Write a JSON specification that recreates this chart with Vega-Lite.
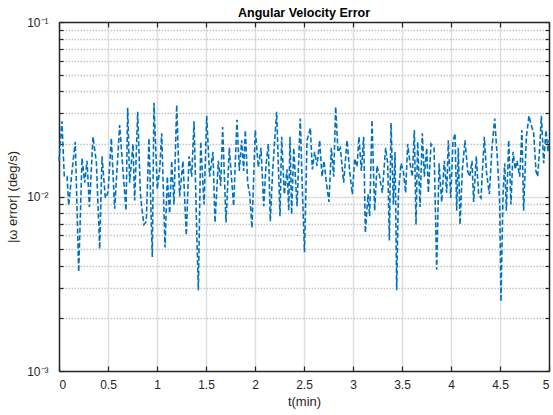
{
  "$schema": "https://vega.github.io/schema/vega-lite/v6.json",
  "width": 490,
  "height": 349,
  "autosize": {"type": "none"},
  "padding": {"left": 59, "top": 22, "right": 4, "bottom": 44},
  "background": "white",
  "config": {
    "view": {"stroke": null},
    "font": "Liberation Sans",
    "axis": {"domainColor": "#262626", "tickColor": "#262626", "labelColor": "#262626", "titleColor": "#262626", "domainWidth": 1.5, "tickWidth": 1.2, "labelFont": "Liberation Sans", "titleFont": "Liberation Sans", "labelFontSize": 12, "titleFontSize": 13, "titleFontWeight": "normal", "zindex": 0}
  },
  "title": {"text": "Angular Velocity Error", "fontSize": 12.5, "fontWeight": "bold", "color": "#000000", "font": "Liberation Sans", "anchor": "middle", "offset": -3},
  "data": {"values": [
    {"t": 0, "e": 0.016}, {"t": 0.03, "e": 0.027}, {"t": 0.054, "e": 0.013}, {"t": 0.082, "e": 0.013}, {"t": 0.099, "e": 0.0089},
    {"t": 0.133, "e": 0.014}, {"t": 0.166, "e": 0.0206}, {"t": 0.201, "e": 0.0037}, {"t": 0.235, "e": 0.0166}, {"t": 0.262, "e": 0.012},
    {"t": 0.286, "e": 0.016}, {"t": 0.31, "e": 0.0087}, {"t": 0.347, "e": 0.022}, {"t": 0.381, "e": 0.0158}, {"t": 0.415, "e": 0.005},
    {"t": 0.439, "e": 0.017}, {"t": 0.473, "e": 0.0098}, {"t": 0.5, "e": 0.0105}, {"t": 0.534, "e": 0.0216}, {"t": 0.568, "e": 0.0085},
    {"t": 0.619, "e": 0.0257}, {"t": 0.653, "e": 0.014}, {"t": 0.684, "e": 0.0083}, {"t": 0.701, "e": 0.0322}, {"t": 0.721, "e": 0.012},
    {"t": 0.755, "e": 0.02}, {"t": 0.772, "e": 0.0095}, {"t": 0.803, "e": 0.0306}, {"t": 0.83, "e": 0.0105}, {"t": 0.844, "e": 0.0087},
    {"t": 0.867, "e": 0.0069}, {"t": 0.891, "e": 0.0072}, {"t": 0.918, "e": 0.0216}, {"t": 0.952, "e": 0.0045}, {"t": 0.969, "e": 0.0344},
    {"t": 1.003, "e": 0.011}, {"t": 1.027, "e": 0.0143}, {"t": 1.048, "e": 0.023}, {"t": 1.082, "e": 0.0051}, {"t": 1.105, "e": 0.013},
    {"t": 1.129, "e": 0.008}, {"t": 1.15, "e": 0.016}, {"t": 1.173, "e": 0.009}, {"t": 1.201, "e": 0.0335}, {"t": 1.231, "e": 0.01},
    {"t": 1.265, "e": 0.016}, {"t": 1.299, "e": 0.006}, {"t": 1.327, "e": 0.017}, {"t": 1.354, "e": 0.013}, {"t": 1.378, "e": 0.027},
    {"t": 1.401, "e": 0.0078}, {"t": 1.422, "e": 0.0029}, {"t": 1.446, "e": 0.0206}, {"t": 1.48, "e": 0.009}, {"t": 1.507, "e": 0.029},
    {"t": 1.537, "e": 0.013}, {"t": 1.571, "e": 0.018}, {"t": 1.592, "e": 0.0071}, {"t": 1.626, "e": 0.016}, {"t": 1.65, "e": 0.0115},
    {"t": 1.67, "e": 0.025}, {"t": 1.704, "e": 0.0071}, {"t": 1.738, "e": 0.019}, {"t": 1.755, "e": 0.014}, {"t": 1.782, "e": 0.0088},
    {"t": 1.816, "e": 0.0275}, {"t": 1.84, "e": 0.014}, {"t": 1.864, "e": 0.021}, {"t": 1.884, "e": 0.014}, {"t": 1.901, "e": 0.024},
    {"t": 1.925, "e": 0.012}, {"t": 1.946, "e": 0.0103}, {"t": 1.969, "e": 0.0066}, {"t": 2.003, "e": 0.024}, {"t": 2.034, "e": 0.0147},
    {"t": 2.061, "e": 0.019}, {"t": 2.089, "e": 0.0088}, {"t": 2.112, "e": 0.015}, {"t": 2.136, "e": 0.02}, {"t": 2.156, "e": 0.0072},
    {"t": 2.18, "e": 0.014}, {"t": 2.221, "e": 0.0306}, {"t": 2.255, "e": 0.0077}, {"t": 2.272, "e": 0.022}, {"t": 2.299, "e": 0.0103},
    {"t": 2.327, "e": 0.0143}, {"t": 2.344, "e": 0.0083}, {"t": 2.357, "e": 0.022}, {"t": 2.374, "e": 0.0079}, {"t": 2.395, "e": 0.019},
    {"t": 2.429, "e": 0.0088}, {"t": 2.462, "e": 0.028}, {"t": 2.483, "e": 0.011}, {"t": 2.505, "e": 0.0048}, {"t": 2.531, "e": 0.021},
    {"t": 2.565, "e": 0.0247}, {"t": 2.585, "e": 0.0143}, {"t": 2.609, "e": 0.018}, {"t": 2.633, "e": 0.015}, {"t": 2.66, "e": 0.021},
    {"t": 2.684, "e": 0.013}, {"t": 2.704, "e": 0.016}, {"t": 2.728, "e": 0.012}, {"t": 2.755, "e": 0.0093}, {"t": 2.779, "e": 0.019},
    {"t": 2.803, "e": 0.013}, {"t": 2.823, "e": 0.0327}, {"t": 2.847, "e": 0.018}, {"t": 2.871, "e": 0.019}, {"t": 2.905, "e": 0.012},
    {"t": 2.939, "e": 0.021}, {"t": 2.966, "e": 0.014}, {"t": 2.993, "e": 0.0103}, {"t": 3.017, "e": 0.0165}, {"t": 3.041, "e": 0.0148},
    {"t": 3.061, "e": 0.022}, {"t": 3.085, "e": 0.014}, {"t": 3.109, "e": 0.022}, {"t": 3.126, "e": 0.0062}, {"t": 3.153, "e": 0.0103},
    {"t": 3.17, "e": 0.0077}, {"t": 3.194, "e": 0.0275}, {"t": 3.221, "e": 0.0083}, {"t": 3.245, "e": 0.015}, {"t": 3.272, "e": 0.013},
    {"t": 3.299, "e": 0.0105}, {"t": 3.333, "e": 0.019}, {"t": 3.354, "e": 0.0155}, {"t": 3.371, "e": 0.0056}, {"t": 3.388, "e": 0.0264},
    {"t": 3.412, "e": 0.009}, {"t": 3.429, "e": 0.018}, {"t": 3.446, "e": 0.0029}, {"t": 3.463, "e": 0.0103}, {"t": 3.49, "e": 0.0155},
    {"t": 3.514, "e": 0.014}, {"t": 3.537, "e": 0.0105}, {"t": 3.558, "e": 0.02}, {"t": 3.582, "e": 0.0155}, {"t": 3.605, "e": 0.013},
    {"t": 3.626, "e": 0.024}, {"t": 3.643, "e": 0.0069}, {"t": 3.66, "e": 0.0206}, {"t": 3.684, "e": 0.0087}, {"t": 3.707, "e": 0.023},
    {"t": 3.728, "e": 0.013}, {"t": 3.752, "e": 0.019}, {"t": 3.769, "e": 0.0105}, {"t": 3.796, "e": 0.02}, {"t": 3.827, "e": 0.019},
    {"t": 3.854, "e": 0.0038}, {"t": 3.878, "e": 0.0155}, {"t": 3.905, "e": 0.0093}, {"t": 3.932, "e": 0.016}, {"t": 3.956, "e": 0.0105},
    {"t": 3.973, "e": 0.021}, {"t": 3.997, "e": 0.0098}, {"t": 4.02, "e": 0.0206}, {"t": 4.041, "e": 0.023}, {"t": 4.058, "e": 0.0083},
    {"t": 4.075, "e": 0.019}, {"t": 4.092, "e": 0.0069}, {"t": 4.116, "e": 0.0143}, {"t": 4.143, "e": 0.021}, {"t": 4.17, "e": 0.014},
    {"t": 4.191, "e": 0.013}, {"t": 4.214, "e": 0.016}, {"t": 4.231, "e": 0.0093}, {"t": 4.258, "e": 0.017}, {"t": 4.282, "e": 0.0103},
    {"t": 4.306, "e": 0.0098}, {"t": 4.34, "e": 0.022}, {"t": 4.361, "e": 0.014}, {"t": 4.391, "e": 0.0103}, {"t": 4.418, "e": 0.019},
    {"t": 4.446, "e": 0.028}, {"t": 4.476, "e": 0.0155}, {"t": 4.497, "e": 0.009}, {"t": 4.51, "e": 0.0025}, {"t": 4.531, "e": 0.0103},
    {"t": 4.548, "e": 0.0155}, {"t": 4.565, "e": 0.0083}, {"t": 4.589, "e": 0.021}, {"t": 4.612, "e": 0.009}, {"t": 4.633, "e": 0.018},
    {"t": 4.656, "e": 0.0143}, {"t": 4.673, "e": 0.016}, {"t": 4.701, "e": 0.013}, {"t": 4.724, "e": 0.024}, {"t": 4.741, "e": 0.0083},
    {"t": 4.769, "e": 0.022}, {"t": 4.796, "e": 0.029}, {"t": 4.816, "e": 0.026}, {"t": 4.844, "e": 0.023}, {"t": 4.867, "e": 0.014},
    {"t": 4.884, "e": 0.013}, {"t": 4.905, "e": 0.019}, {"t": 4.922, "e": 0.029}, {"t": 4.946, "e": 0.0155}, {"t": 4.969, "e": 0.024},
    {"t": 4.99, "e": 0.018}, {"t": 5.0, "e": 0.021}
  ]},
  "resolve": {"scale": {"x": "shared", "y": "shared"}, "axis": {"x": "independent", "y": "independent"}},
  "layer": [
    {
      "mark": {"type": "line", "opacity": 0},
      "encoding": {
        "x": {"field": "t", "type": "quantitative", "scale": {"domain": [0, 5], "nice": false, "zero": false},
          "axis": {"orient": "bottom", "values": [0.5, 1, 1.5, 2, 2.5, 3, 3.5, 4, 4.5], "grid": true, "gridColor": "#dedede", "gridWidth": 1.5, "domain": false, "ticks": false, "labels": false, "title": null}},
        "y": {"field": "e", "type": "quantitative", "scale": {"type": "log", "domain": [0.001, 0.1], "nice": false},
          "axis": {"orient": "left", "values": [0.002, 0.003, 0.004, 0.005, 0.006, 0.007, 0.008, 0.009, 0.02, 0.03, 0.04, 0.05, 0.06, 0.07, 0.08, 0.09], "grid": true, "gridColor": "#c4c4c4", "gridDash": [1.5, 1.5], "gridWidth": 1.3, "domain": false, "ticks": true, "tickSize": -4, "labels": false, "title": null}}
      }
    },
    {
      "mark": {"type": "line", "opacity": 0},
      "encoding": {
        "x": {"field": "t", "type": "quantitative", "scale": {"domain": [0, 5], "nice": false, "zero": false},
          "axis": {"orient": "top", "values": [0, 0.5, 1, 1.5, 2, 2.5, 3, 3.5, 4, 4.5, 5], "grid": false, "domain": true, "ticks": true, "tickSize": -5, "labels": false, "title": null}},
        "y": {"field": "e", "type": "quantitative", "scale": {"type": "log", "domain": [0.001, 0.1], "nice": false},
          "axis": {"orient": "right", "values": [0.01], "grid": true, "gridColor": "#dedede", "gridWidth": 1.5, "domain": false, "ticks": false, "labels": false, "title": null}}
      }
    },
    {
      "mark": {"type": "line", "opacity": 0},
      "encoding": {
        "x": {"field": "t", "type": "quantitative", "scale": {"domain": [0, 5], "nice": false, "zero": false}, "axis": null},
        "y": {"field": "e", "type": "quantitative", "scale": {"type": "log", "domain": [0.001, 0.1], "nice": false},
          "axis": {"orient": "right", "values": [0.001, 0.002, 0.003, 0.004, 0.005, 0.006, 0.007, 0.008, 0.009, 0.01, 0.02, 0.03, 0.04, 0.05, 0.06, 0.07, 0.08, 0.09, 0.1], "grid": false, "domain": true, "ticks": true, "tickSize": -4, "labels": false, "title": null}}
      }
    },
    {
      "mark": {"type": "line", "color": "#0072BD", "strokeWidth": 1.6, "strokeDash": [5, 2.5], "interpolate": "linear"},
      "encoding": {
        "x": {"field": "t", "type": "quantitative", "scale": {"domain": [0, 5], "nice": false, "zero": false},
          "axis": {"orient": "bottom", "values": [0, 0.5, 1, 1.5, 2, 2.5, 3, 3.5, 4, 4.5, 5], "format": "~g", "grid": false, "domain": true, "ticks": true, "tickSize": -5, "labelPadding": 13, "title": "t(min)", "titleX": 245, "titleY": 30, "titleBaseline": "middle", "titleAlign": "center"}},
        "y": {"field": "e", "type": "quantitative", "scale": {"type": "log", "domain": [0.001, 0.1], "nice": false},
          "axis": {"orient": "left", "values": [0.001, 0.01, 0.1], "labelExpr": "datum.value > 0.05 ? '10⁻¹' : datum.value > 0.005 ? '10⁻²' : '10⁻³'", "labelFontSize": 12, "grid": false, "domain": true, "ticks": true, "tickSize": -5, "labelPadding": 16, "title": "|ω error| (deg/s)", "titleX": -47, "titleY": 174.5, "titleAngle": -90, "titleBaseline": "middle", "titleAlign": "center"}}
      }
    }
  ]
}
